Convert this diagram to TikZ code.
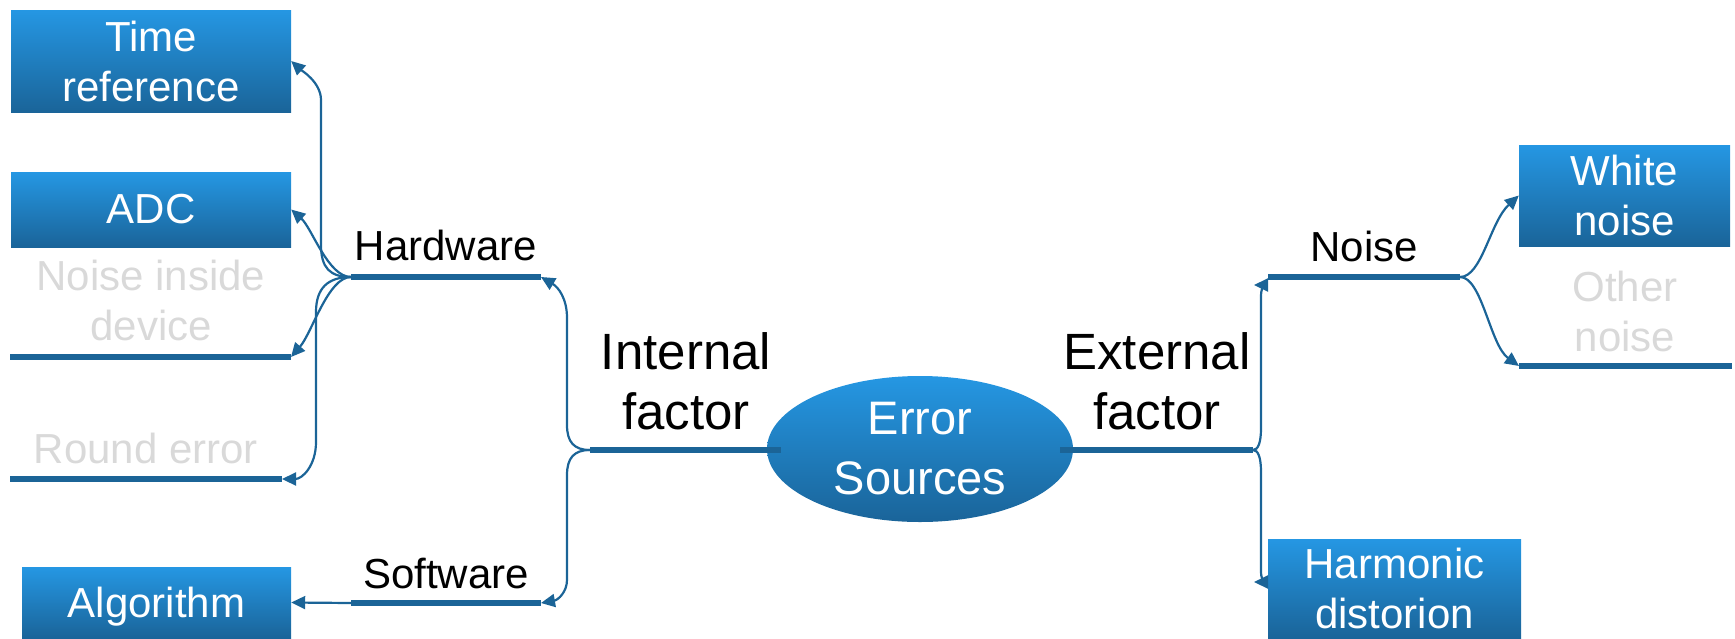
\documentclass[tikz,border=0pt]{standalone}
\usepackage{fontspec}
\setmainfont{Liberation Sans}
\usetikzlibrary{shapes.geometric,arrows.meta}
\definecolor{lineblue}{HTML}{1B6497}
\definecolor{boxtop}{HTML}{2597E3}
\definecolor{boxbot}{HTML}{1A6499}
\definecolor{graytxt}{HTML}{D9D9D9}
\tikzset{
  box/.style={rectangle, inner sep=0pt, top color=boxtop, bottom color=boxbot, text=white, align=center, font=\fontsize{42}{50}\selectfont},
  lbl/.style={inner sep=0pt, align=center, font=\fontsize{42}{50}\selectfont},
  greytext/.style={lbl, text=graytxt},
  big/.style={inner sep=0pt, align=center, font=\fontsize{51}{60}\selectfont},
  under/.style={draw=lineblue, line width=5.5pt},
  conn/.style={draw=lineblue, line width=2.2pt, -{Triangle[length=14pt,width=13pt]}},
}
\begin{document}
\begin{tikzpicture}[x=1pt,y=-1pt]
\useasboundingbox (0,0) rectangle (1735,638);
% boxes
\node[box, minimum width=280pt, minimum height=102pt] (tr) at (151,61) {Time\\reference};
\node[box, minimum width=280pt, minimum height=75pt] (adc) at (151,209.5) {ADC};
\node[box, minimum width=269pt, minimum height=71pt, text depth=0pt] (alg) at (156.5,602.5) {Algorithm};
\node[box, minimum width=211pt, minimum height=101pt] (wn) at (1624.5,195.5) {White\\noise};
\node[box, minimum width=253pt, minimum height=99pt] (hd) at (1394.5,588.5) {Harmonic\\distorion};
% centre
\node[ellipse, inner sep=0pt, minimum width=306pt, minimum height=146pt, top color=boxtop, bottom color=boxbot, text=white, align=center, font=\fontsize{47}{60}\selectfont] (es) at (920,449) {Error\\Sources};
% line end points
\coordinate (hwL) at (351,277); \coordinate (hwR) at (541,277);
\coordinate (swL) at (351,603); \coordinate (swR) at (541,603);
\coordinate (ifL) at (590,450); \coordinate (ifR) at (781,450);
\coordinate (efL) at (1060,450); \coordinate (efR) at (1253,450);
\coordinate (nzL) at (1268,277); \coordinate (nzR) at (1460,277);
\coordinate (ndL) at (10,357); \coordinate (ndR) at (291,357);
\coordinate (reL) at (10,479); \coordinate (reR) at (282,479);
\coordinate (onL) at (1519,366); \coordinate (onR) at (1732,366);
\coordinate (nzA) at (1254,285); \coordinate (hdA) at (1254,582);
% underlines
\draw[under] (hwL) -- (hwR);
\draw[under] (swL) -- (swR);
\draw[under] (ifL) -- (ifR);
\draw[under] (efL) -- (efR);
\draw[under] (nzL) -- (nzR);
\draw[under] (ndL) -- (ndR);
\draw[under] (reL) -- (reR);
\draw[under] (onL) -- (onR);
% connectors
\draw[conn] (hwL) .. controls (330,277) and (321,268) .. (321,245) -- (321,100) .. controls (321,82) and (301,70) .. (tr.east);
\draw[conn] (hwL) .. controls (328,277) and (312,228) .. (adc.east);
\draw[conn] (hwL) .. controls (328,277) and (312,333) .. (ndR);
\draw[conn] (hwL) .. controls (328,277) and (316,288) .. (316,312) -- (316,442) .. controls (316,466) and (302,479) .. (reR);
\draw[conn] (ifL) .. controls (574,450) and (567,442) .. (567,425) -- (567,318) .. controls (567,298) and (558,287) .. (hwR);
\draw[conn] (ifL) .. controls (574,450) and (567,458) .. (567,475) -- (567,580) .. controls (567,592) and (558,600) .. (swR);
\draw[conn] (swL) -- (alg.east);
\draw[conn] (efR) .. controls (1258,450) and (1261,443) .. (1261,428) -- (1261,298) .. controls (1261,289) and (1262,285) .. (nzA);
\draw[conn] (efR) .. controls (1258,450) and (1261,457) .. (1261,472) -- (1261,570) .. controls (1261,578) and (1262,582) .. (hdA);
\draw[conn] (nzR) .. controls (1482,277) and (1490,222) .. (wn.west);
\draw[conn] (nzR) .. controls (1482,277) and (1490,345) .. (onL);
% labels
\node[lbl] (hwT) at (446,245) {Hardware};
\node[lbl] (swT) at (446,573) {Software};
\node[lbl] (nzT) at (1364,246) {Noise};
\node[big] (ifT) at (686,381) {Internal\\factor};
\node[big] (efT) at (1157,381) {External\\factor};
\node[greytext] (ndT) at (151,300) {Noise inside\\device};
\node[greytext] (reT) at (146,448) {Round error};
\node[greytext] (onT) at (1625,311) {Other\\noise};
\end{tikzpicture}
\end{document}
